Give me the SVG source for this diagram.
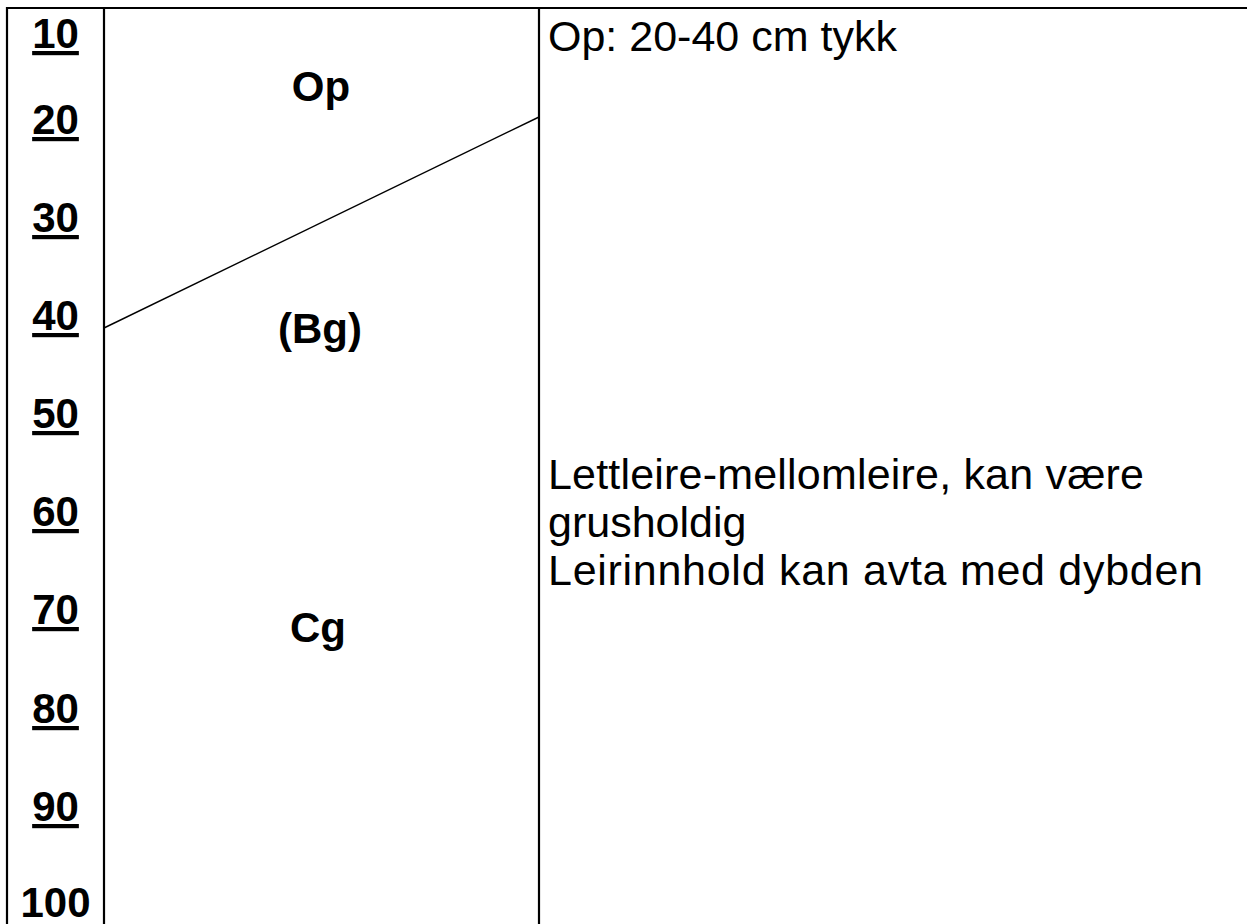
<svg xmlns="http://www.w3.org/2000/svg" width="1247" height="924" viewBox="0 0 1247 924">
<style>
.ln{stroke:#000;stroke-width:2.2;fill:none}
.thin{stroke:#000;stroke-width:1.4;fill:none}
.d{font-family:"Liberation Sans",Arial,sans-serif;font-weight:bold;font-size:42px;text-anchor:middle;fill:#000;text-decoration:underline}
.h{font-family:"Liberation Sans",Arial,sans-serif;font-weight:bold;font-size:42px;text-anchor:middle;fill:#000}
.t{font-family:"Liberation Sans",Arial,sans-serif;font-size:43px;fill:#000}
</style>
<rect width="1247" height="924" fill="#fff"/>
<g id="grid">
<line class="ln" x1="6" y1="8" x2="1247" y2="8"/>
<line class="ln" x1="7" y1="7" x2="7" y2="924"/>
<line class="ln" x1="104" y1="7" x2="104" y2="924"/>
<line class="ln" x1="539" y1="7" x2="539" y2="924"/>
</g>
<g id="connectors">
<line class="thin" x1="104" y1="328" x2="539" y2="117"/>
</g>
<g id="depth-scale">
<text class="d" x="55.5" y="48">10</text>
<text class="d" x="55.5" y="134">20</text>
<text class="d" x="55.5" y="232">30</text>
<text class="d" x="55.5" y="330">40</text>
<text class="d" x="55.5" y="428">50</text>
<text class="d" x="55.5" y="526">60</text>
<text class="d" x="55.5" y="624">70</text>
<text class="d" x="55.5" y="723">80</text>
<text class="d" x="55.5" y="821">90</text>
<text class="h" x="55.5" y="917">100</text>
</g>
<g id="horizon-Op"><text class="h" x="321" y="101">Op</text></g>
<g id="horizon-Bg"><text class="h" x="320" y="343">(Bg)</text></g>
<g id="horizon-Cg"><text class="h" x="318" y="642">Cg</text></g>
<g id="desc-top"><text class="t" x="548" y="51">Op: 20-40 cm tykk</text></g>
<g id="desc-main">
<text class="t" x="548" y="489" textLength="596" lengthAdjust="spacing">Lettleire-mellomleire, kan være</text>
<text class="t" x="548" y="537">grusholdig</text>
<text class="t" x="548" y="585" textLength="655" lengthAdjust="spacing">Leirinnhold kan avta med dybden</text>
</g>
</svg>
